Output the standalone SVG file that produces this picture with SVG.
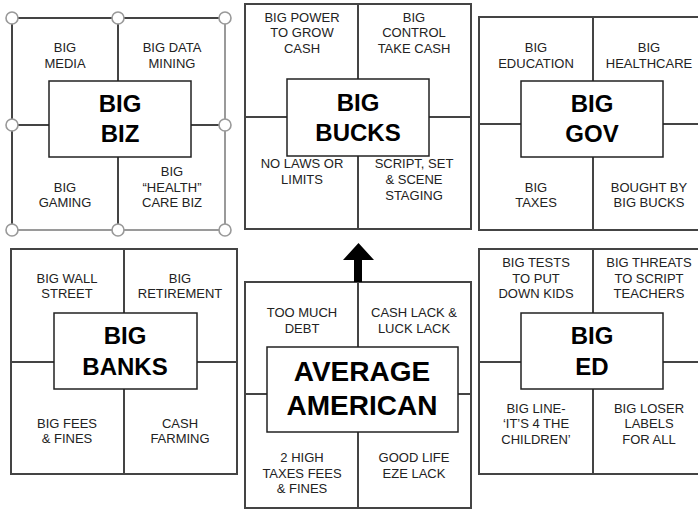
<svg xmlns="http://www.w3.org/2000/svg" width="698" height="509" viewBox="0 0 698 509">
<style>
.panel{fill:#fff;stroke:#444;stroke-width:2}
.div{stroke:#444;stroke-width:2;fill:none}
.box{fill:#fff;stroke:#222;stroke-width:1.5}
.t{font-family:"Liberation Sans",Arial,sans-serif;font-size:13px;fill:#222;text-anchor:middle}
.b{font-family:"Liberation Sans",Arial,sans-serif;font-size:24px;font-weight:bold;fill:#000;text-anchor:middle}
.bb{font-family:"Liberation Sans",Arial,sans-serif;font-size:28px;font-weight:bold;fill:#000;text-anchor:middle}
.h{fill:#fff;stroke:#999;stroke-width:1.6}
</style>
<rect width="698" height="509" fill="#fff"/>

<g id="big-biz">
<rect x="12" y="18" width="213" height="212" fill="#fff" stroke="#9a9a9a" stroke-width="2"/>
<path class="div" d="M12 230V18H225"/>
<path class="div" d="M118 18V230M12 125H225"/>
<rect class="box" x="49" y="81" width="142" height="76"/>
<text class="t" x="65" y="52">BIG</text><text class="t" x="65" y="68">MEDIA</text>
<text class="t" x="172" y="52">BIG DATA</text><text class="t" x="172" y="68">MINING</text>
<text class="t" x="65" y="192">BIG</text><text class="t" x="65" y="207">GAMING</text>
<text class="t" x="172" y="176">BIG</text><text class="t" x="172" y="192">“HEALTH”</text><text class="t" x="172" y="207">CARE BIZ</text>
<text class="b" x="120" y="112">BIG</text><text class="b" x="120" y="142">BIZ</text>
<circle class="h" cx="12" cy="18" r="6"/><circle class="h" cx="118" cy="18" r="6"/><circle class="h" cx="225" cy="18" r="6"/>
<circle class="h" cx="12" cy="125" r="6"/><circle class="h" cx="225" cy="125" r="6"/>
<circle class="h" cx="12" cy="230" r="6"/><circle class="h" cx="118" cy="230" r="6"/><circle class="h" cx="225" cy="230" r="6"/>
</g>

<g id="big-bucks">
<rect class="panel" x="245" y="4" width="226" height="225"/>
<path class="div" d="M358 4V229M245 117H471"/>
<rect class="box" x="287" y="79" width="142" height="77"/>
<text class="t" x="302" y="22">BIG POWER</text><text class="t" x="302" y="37">TO GROW</text><text class="t" x="302" y="53">CASH</text>
<text class="t" x="414" y="22">BIG</text><text class="t" x="414" y="37">CONTROL</text><text class="t" x="414" y="53">TAKE CASH</text>
<text class="t" x="302" y="168">NO LAWS OR</text><text class="t" x="302" y="184">LIMITS</text>
<text class="t" x="414" y="168">SCRIPT, SET</text><text class="t" x="414" y="184">&amp; SCENE</text><text class="t" x="414" y="200">STAGING</text>
<text class="b" x="358" y="111">BIG</text><text class="b" x="358" y="141">BUCKS</text>
</g>

<g id="big-gov">
<rect class="panel" x="479" y="17" width="228" height="213"/>
<path class="div" d="M593 17V230M479 124H707"/>
<rect class="box" x="521" y="81" width="142" height="76"/>
<text class="t" x="536" y="52">BIG</text><text class="t" x="536" y="68">EDUCATION</text>
<text class="t" x="649" y="52">BIG</text><text class="t" x="649" y="68">HEALTHCARE</text>
<text class="t" x="536" y="192">BIG</text><text class="t" x="536" y="207">TAXES</text>
<text class="t" x="649" y="192">BOUGHT BY</text><text class="t" x="649" y="207">BIG BUCKS</text>
<text class="b" x="592" y="112">BIG</text><text class="b" x="592" y="142">GOV</text>
</g>

<g id="big-banks">
<rect class="panel" x="11" y="249" width="226" height="225"/>
<path class="div" d="M124 249V474M11 362H237"/>
<rect class="box" x="54" y="313" width="143" height="76"/>
<text class="t" x="67" y="283">BIG WALL</text><text class="t" x="67" y="298">STREET</text>
<text class="t" x="180" y="283">BIG</text><text class="t" x="180" y="298">RETIREMENT</text>
<text class="t" x="67" y="428">BIG FEES</text><text class="t" x="67" y="443">&amp; FINES</text>
<text class="t" x="180" y="428">CASH</text><text class="t" x="180" y="443">FARMING</text>
<text class="b" x="125" y="344">BIG</text><text class="b" x="125" y="375">BANKS</text>
</g>

<g id="average-american">
<rect class="panel" x="245" y="282" width="226" height="226"/>
<path class="div" d="M358 282V508M245 394H471"/>
<rect class="box" x="267" y="347" width="191" height="85"/>
<text class="t" x="302" y="317">TOO MUCH</text><text class="t" x="302" y="333">DEBT</text>
<text class="t" x="414" y="317">CASH LACK &amp;</text><text class="t" x="414" y="333">LUCK LACK</text>
<text class="t" x="302" y="462">2 HIGH</text><text class="t" x="302" y="478">TAXES FEES</text><text class="t" x="302" y="493">&amp; FINES</text>
<text class="t" x="414" y="462">GOOD LIFE</text><text class="t" x="414" y="478">EZE LACK</text>
<text class="bb" x="362" y="381">AVERAGE</text><text class="bb" x="362" y="415">AMERICAN</text>
</g>

<g id="big-ed">
<rect class="panel" x="479" y="249" width="228" height="225"/>
<path class="div" d="M593 249V474M479 362H707"/>
<rect class="box" x="521" y="313" width="142" height="76"/>
<text class="t" x="536" y="267">BIG TESTS</text><text class="t" x="536" y="283">TO PUT</text><text class="t" x="536" y="298">DOWN KIDS</text>
<text class="t" x="649" y="267">BIG THREATS</text><text class="t" x="649" y="283">TO SCRIPT</text><text class="t" x="649" y="298">TEACHERS</text>
<text class="t" x="536" y="413">BIG LINE-</text><text class="t" x="536" y="428">‘IT’S 4 THE</text><text class="t" x="536" y="444">CHILDREN’</text>
<text class="t" x="649" y="413">BIG LOSER</text><text class="t" x="649" y="428">LABELS</text><text class="t" x="649" y="444">FOR ALL</text>
<text class="b" x="592" y="344">BIG</text><text class="b" x="592" y="375">ED</text>
</g>

<g id="connectors">
<path d="M354 282V260H343L358.5 243L374 260H362V282Z" fill="#000"/>
</g>
</svg>
